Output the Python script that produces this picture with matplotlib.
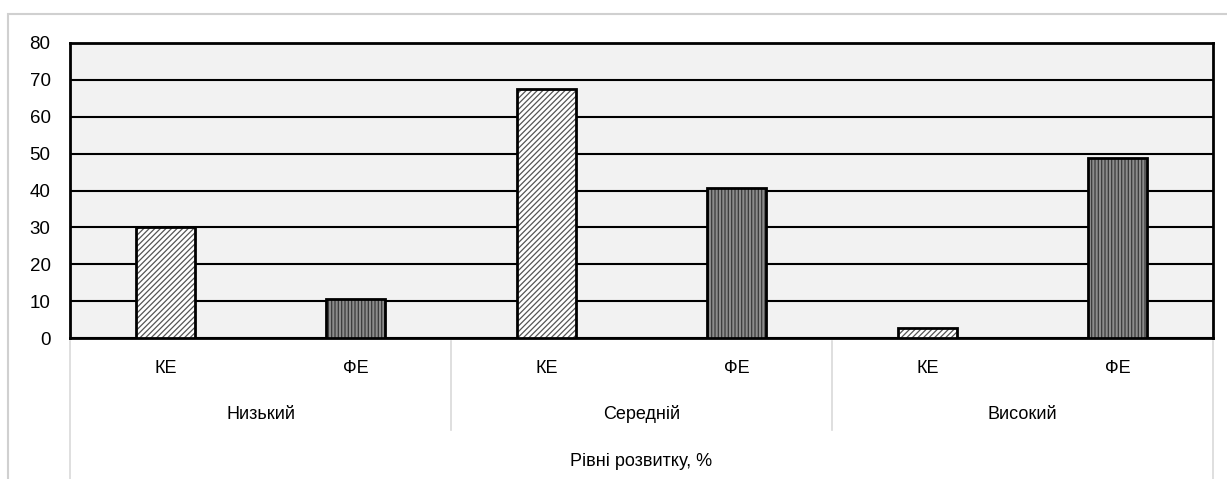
import matplotlib
matplotlib.use("Agg")
import matplotlib.pyplot as plt
from matplotlib.patches import Rectangle
from matplotlib.transforms import blended_transform_factory

plt.rcParams['font.family'] = ['Liberation Sans Narrow', 'Liberation Sans', 'DejaVu Sans']
plt.rcParams['hatch.linewidth'] = 0.9

# Data
groups = ["Низький", "Середній", "Високий"]
series = ["КЕ", "ФЕ"]
ke_values = [30, 67.5, 2.7]
fe_values = [10.6, 40.6, 48.8]
y_ticks = [0, 10, 20, 30, 40, 50, 60, 70, 80]
x_title = "Рівні розвитку, %"

fig = plt.figure(figsize=(12.27, 4.79), dpi=100)
ax = fig.add_axes([0.05705, 0.29436, 0.93154, 0.61587])
ax.set_facecolor("#f2f2f2")

# chart area border (light grey, top and left)
fig.patches.append(Rectangle((8 / 1227, -0.1), 1.2, (479 - 14) / 479 + 0.1,
                             transform=fig.transFigure, fill=False,
                             edgecolor="#d0d0d0", lw=1.5))

x_ke = [2 * i for i in range(len(groups))]
x_fe = [2 * i + 1 for i in range(len(groups))]
bar_w = 0.31

# hatched fills first, then black outlines on top
ax.bar(x_ke, ke_values, width=bar_w, facecolor="white", edgecolor="#555555",
       hatch="//////", linewidth=0, zorder=3)
ax.bar(x_fe, fe_values, width=bar_w, facecolor="#8c8c8c", edgecolor="#3a3a3a",
       hatch="|||||", linewidth=0, zorder=3)
ax.bar(x_ke, ke_values, width=bar_w, fill=False, edgecolor="black", linewidth=2, zorder=4)
ax.bar(x_fe, fe_values, width=bar_w, fill=False, edgecolor="black", linewidth=2, zorder=4)

ax.set_xlim(-0.5, 5.5)
ax.set_ylim(0, 80)
ax.set_yticks(y_ticks)
ax.tick_params(axis="y", length=0, labelsize=13.5, pad=14)
ax.set_xticks([])
ax.yaxis.grid(True, color="black", linewidth=1.5)
ax.set_axisbelow(True)
for s in ax.spines.values():
    s.set_linewidth(2)
    s.set_color("black")

# multi-level category labels
tr = blended_transform_factory(ax.transData, ax.transAxes)
for i, g in enumerate(groups):
    ax.text(x_ke[i], -0.105, series[0], transform=tr, ha="center", va="center", fontsize=13)
    ax.text(x_fe[i], -0.105, series[1], transform=tr, ha="center", va="center", fontsize=13)
    ax.text(2 * i + 0.5, -0.258, g, transform=tr, ha="center", va="center", fontsize=13)
ax.text(2.5, -0.417, x_title, transform=tr, ha="center", va="center", fontsize=13)

for xs in [1.5, 3.5]:
    ax.plot([xs, xs], [-0.01, -0.312], transform=tr, color="#d9d9d9", lw=1.2, clip_on=False)
for xs in [-0.5, 5.5]:
    ax.plot([xs, xs], [-0.01, -0.48], transform=tr, color="#d9d9d9", lw=1.2, clip_on=False)

fig.savefig("out.png", dpi=100)
